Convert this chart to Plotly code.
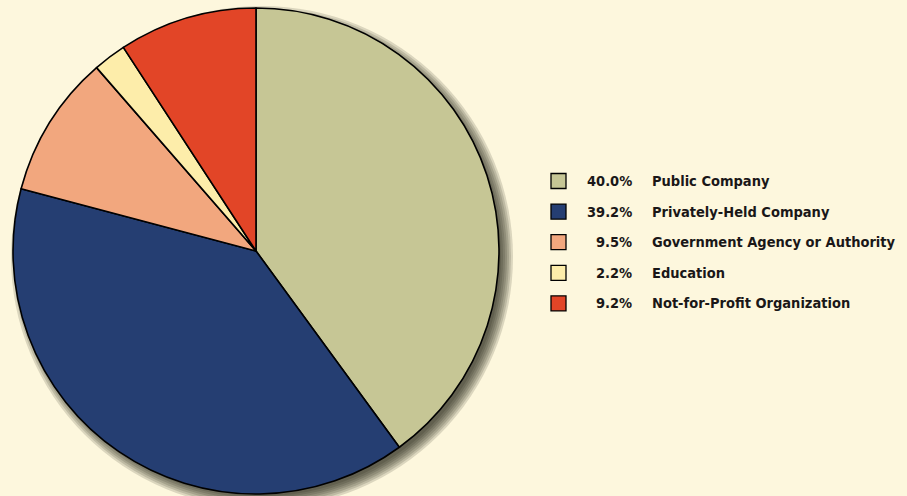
import plotly.graph_objects as go

# Survey breakdown by organisation type
categories = [
    "Public Company",
    "Privately-Held Company",
    "Government Agency or Authority",
    "Education",
    "Not-for-Profit Organization",
]
shares = [40.0, 39.2, 9.5, 2.2, 9.2]
colors = ["#C6C695", "#253E72", "#F2A77E", "#FDEDAA", "#E24527"]

W, H = 907, 496
BG = "#FDF7DD"

# pie geometry in pixels
cx, cy, r = 256, 251, 243


def px_x(x):
    return x / W


def px_y(y):
    return 1 - y / H


fig = go.Figure()

fig.add_trace(go.Pie(
    labels=categories,
    values=shares,
    marker=dict(colors=colors, line=dict(color="#000000", width=1.6)),
    sort=False,
    direction="clockwise",
    rotation=0,
    textinfo="none",
    showlegend=False,
    domain=dict(x=[px_x(cx - r), px_x(cx + r)],
                y=[px_y(cy + r), px_y(cy - r)]),
))

shapes, annotations = [], []

# soft drop shadow: stacked translucent discs, offset down-right
sx, sy = cx + 6, cy + 6
for extra in [8, 6, 4, 2, 0, -2, -4]:
    rr = r + extra
    shapes.append(dict(
        type="circle", xref="paper", yref="paper", layer="below",
        x0=px_x(sx - rr), x1=px_x(sx + rr),
        y0=px_y(sy + rr), y1=px_y(sy - rr),
        fillcolor="rgba(30,25,15,0.15)", line=dict(width=0),
    ))

# custom legend: swatch, right-aligned share, label
font = dict(family="DejaVu Sans Condensed, sans-serif",
            size=14.5, color="#1A1718")
row0, step = 181, 30.6
sq_l, sq_r = 551, 566
pct_right, lab_left = 634, 650
for i, (name, val, col) in enumerate(zip(categories, shares, colors)):
    yc = row0 + i * step
    shapes.append(dict(
        type="rect", xref="paper", yref="paper",
        x0=px_x(sq_l), x1=px_x(sq_r),
        y0=px_y(yc + 7.5), y1=px_y(yc - 7.5),
        fillcolor=col, line=dict(color="#000000", width=1.3),
    ))
    annotations.append(dict(
        x=px_x(pct_right), y=px_y(yc), xref="paper", yref="paper",
        text=f"<b>{val:.1f}%</b>", showarrow=False,
        xanchor="right", yanchor="middle", font=font,
    ))
    annotations.append(dict(
        x=px_x(lab_left), y=px_y(yc), xref="paper", yref="paper",
        text=f"<b>{name}</b>", showarrow=False,
        xanchor="left", yanchor="middle", font=font,
    ))

fig.update_layout(
    width=W, height=H,
    margin=dict(l=0, r=0, t=0, b=0),
    paper_bgcolor=BG, plot_bgcolor=BG,
    shapes=shapes, annotations=annotations,
)

fig.write_html("out.html")
